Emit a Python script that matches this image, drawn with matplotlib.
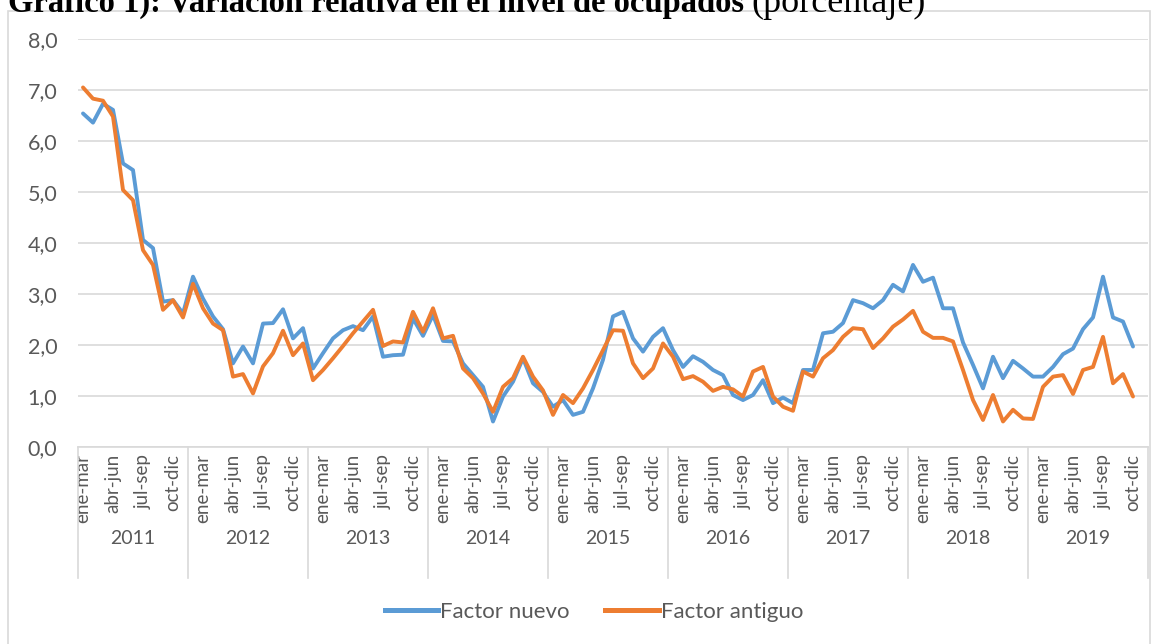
import matplotlib
matplotlib.use("Agg")
import matplotlib.pyplot as plt
import matplotlib.transforms as mtransforms
from matplotlib.patches import Rectangle
from matplotlib.lines import Line2D

# --- data (rolling quarters) ---
years = ["2011", "2012", "2013", "2014", "2015", "2016", "2017", "2018", "2019"]
quarters = ["dic-feb", "ene-mar", "feb-abr", "mar-may", "abr-jun", "may-jul",
            "jun-ago", "jul-sep", "ago-oct", "sep-nov", "oct-dic", "nov-ene"]

# Factor nuevo, 2011 starts at ene-mar, 2019 ends at oct-dic
factor_nuevo = [
    6.54, 6.36, 6.73, 6.61, 5.56, 5.43, 4.06, 3.90, 2.85, 2.88, 2.62,
    3.34, 2.91, 2.56, 2.31, 1.64, 1.97, 1.64, 2.42, 2.43, 2.70, 2.13, 2.33,
    1.54, 1.84, 2.13, 2.29, 2.37, 2.29, 2.56, 1.77, 1.80, 1.81, 2.52, 2.18,
    2.59, 2.08, 2.07, 1.64, 1.41, 1.18, 0.50, 0.99, 1.28, 1.74, 1.25, 1.08,
    0.79, 0.92, 0.63, 0.69, 1.15, 1.71, 2.56, 2.65, 2.13, 1.87, 2.16, 2.33,
    1.90, 1.57, 1.78, 1.67, 1.51, 1.41, 1.02, 0.92, 1.02, 1.31, 0.86, 0.97,
    0.86, 1.51, 1.51, 2.23, 2.26, 2.43, 2.88, 2.82, 2.72, 2.88, 3.18, 3.05,
    3.57, 3.24, 3.32, 2.72, 2.72, 2.05, 1.61, 1.15, 1.77, 1.35, 1.69, 1.54,
    1.38, 1.38, 1.57, 1.82, 1.93, 2.31, 2.54, 3.34, 2.54, 2.46, 1.97,
]

factor_antiguo = [
    7.05, 6.83, 6.79, 6.48, 5.04, 4.84, 3.86, 3.57, 2.69, 2.88, 2.54,
    3.20, 2.72, 2.42, 2.29, 1.38, 1.43, 1.05, 1.58, 1.84, 2.28, 1.80, 2.03,
    1.31, 1.51, 1.74, 1.98, 2.23, 2.46, 2.69, 1.98, 2.07, 2.05, 2.65, 2.26,
    2.72, 2.13, 2.18, 1.54, 1.35, 1.05, 0.69, 1.18, 1.35, 1.77, 1.38, 1.11,
    0.63, 1.02, 0.86, 1.15, 1.51, 1.90, 2.29, 2.28, 1.64, 1.35, 1.54, 2.03,
    1.77, 1.33, 1.39, 1.28, 1.10, 1.18, 1.13, 0.99, 1.48, 1.57, 0.99, 0.79,
    0.71, 1.48, 1.38, 1.74, 1.90, 2.16, 2.33, 2.31, 1.94, 2.13, 2.36, 2.50,
    2.67, 2.26, 2.14, 2.14, 2.07, 1.51, 0.92, 0.53, 1.02, 0.50, 0.73, 0.56,
    0.55, 1.18, 1.38, 1.41, 1.04, 1.51, 1.57, 2.16, 1.25, 1.43, 0.99,
]

y_ticks = [0, 1, 2, 3, 4, 5, 6, 7, 8]

# category axis: 2011 has no dic-feb, every other year has all 12 quarters
categories = []
year_sizes = []
for y in years:
    qs = quarters[1:] if y == "2011" else quarters
    categories += qs
    year_sizes.append(len(qs))

plt.rcParams["font.family"] = ["Lato", "DejaVu Sans"]

W, H = 1156, 644
fig = plt.figure(figsize=(W / 100, H / 100), dpi=100)
ax = fig.add_axes([78 / W, 1 - 447 / H, 1070 / W, 408 / H])

blue = "#5B9BD5"
orange = "#ED7D31"
grey_txt = "#595959"
grey_line = "#D9D9D9"

ax.plot(range(len(factor_nuevo)), factor_nuevo, color=blue, lw=2.8,
        solid_joinstyle="round", solid_capstyle="round", zorder=3)
ax.plot(range(len(factor_antiguo)), factor_antiguo, color=orange, lw=2.8,
        solid_joinstyle="round", solid_capstyle="round", zorder=4)

ax.set_xlim(-0.5, len(categories) - 0.5)
ax.set_ylim(0, 8)
ax.set_yticks(y_ticks)
ax.set_yticklabels([f"{v:.1f}".replace(".", ",") for v in y_ticks])
ax.yaxis.grid(True, color=grey_line, lw=1.2)
ax.set_axisbelow(True)

for s in ["top", "right", "left"]:
    ax.spines[s].set_visible(False)
ax.spines["bottom"].set_color(grey_line)
ax.spines["bottom"].set_linewidth(1.2)

# every third quarter gets a label
tick_pos = list(range(0, len(categories) - 1, 3))
ax.set_xticks(tick_pos)
ax.set_xticklabels([categories[i] for i in tick_pos], rotation=90)
ax.tick_params(axis="both", length=0, labelcolor=grey_txt)
ax.tick_params(axis="y", labelsize=15.5, pad=15)
ax.tick_params(axis="x", labelsize=13.5, pad=5)

# year row + separators under the axis
trans = mtransforms.blended_transform_factory(ax.transData, ax.transAxes)
start = -0.5
bounds = [start]
for y, n in zip(years, year_sizes):
    ax.text(start + n / 2, -91 / 408, y, transform=trans, ha="center",
            va="center", fontsize=14, color=grey_txt)
    start += n
    bounds.append(start)
for b in bounds:
    ax.plot([b, b], [0, -131 / 408], transform=trans, color=grey_line,
            lw=1.2, clip_on=False)

# legend
handles = [Line2D([], [], color=blue, lw=3.6), Line2D([], [], color=orange, lw=3.6)]
fig.legend(handles, ["Factor nuevo", "Factor antiguo"], loc="center",
           bbox_to_anchor=(594 / W, 1 - 612 / H), ncol=2, frameon=False,
           handlelength=2.4, handletextpad=0.1, columnspacing=1.6,
           fontsize=16, labelcolor=grey_txt)

# chart border
fig.add_artist(Rectangle((8 / W, -0.1), 1142 / W, 1 - 11 / H + 0.1,
                         transform=fig.transFigure, fill=False,
                         edgecolor=grey_line, lw=1.2))

# title, clipped at the top like the source screenshot
t1 = fig.text(8 / W, 1 - 12 / H, "Gráfico 1): Variación relativa en el nivel de ocupados",
              family="Liberation Serif", weight="bold", fontsize=23.5,
              va="baseline", ha="left", color="black")
fig.canvas.draw()
bb = t1.get_window_extent(fig.canvas.get_renderer())
fig.text(bb.x1 / W + 7 / W, 1 - 12 / H, "(porcentaje)", family="Liberation Serif",
         fontsize=26, va="baseline", ha="left", color="black")

fig.savefig("out.png", dpi=100)
